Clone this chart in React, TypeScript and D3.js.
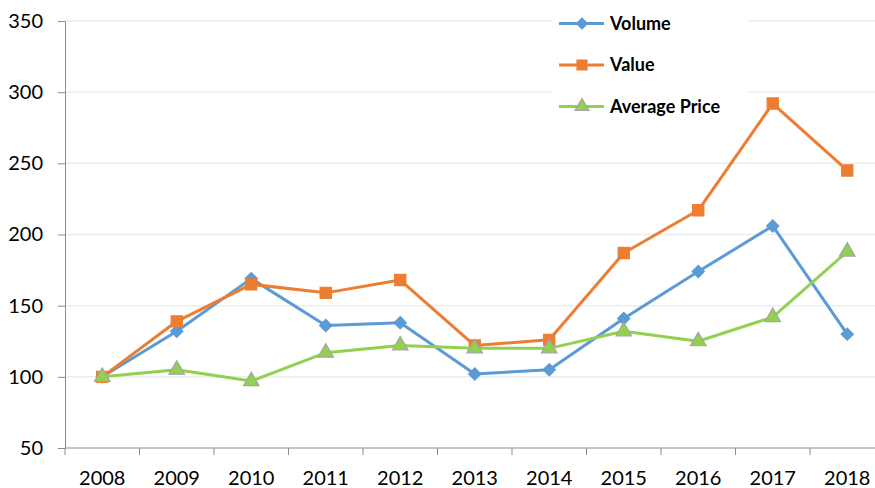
import { useEffect, useRef } from "react"
import { axisBottom, axisLeft, scaleBand, scaleLinear, select, line, symbol, symbolSquare, symbolTriangle } from "d3"

const years = ["2008", "2009", "2010", "2011", "2012", "2013", "2014", "2015", "2016", "2017", "2018"]
const volume = [100, 132, 169, 136, 138, 102, 105, 141, 174, 206, 130]
const value = [100, 139, 165, 159, 168, 122, 126, 187, 217, 292, 245]
const avgPrice = [100, 105, 97, 117, 122, 120, 120, 132, 125, 142, 188]
const yTicks = [50, 100, 150, 200, 250, 300, 350]

// diamond = square turned 45deg (d3's own diamond is too tall)
const series = [
  { name: "Volume", data: volume, color: "#5B9BD5", shape: symbolSquare, size: 75, rot: 45, stroke: "#5B9BD5" },
  { name: "Value", data: value, color: "#ED7D31", shape: symbolSquare, size: 125, rot: 0, stroke: "#ED7D31" },
  { name: "Average Price", data: avgPrice, color: "#92D050", shape: symbolTriangle, size: 105, rot: 0, stroke: "#A5A5A5" },
]

const W = 875
const H = 488
const left = 65
const right = 884.5
const top = 21
const bottom = 448
const font = "Lato, Carlito, 'Liberation Sans', sans-serif"

function AxisBottom({ scale }) {
  const ref = useRef(null)
  useEffect(() => {
    const g = select(ref.current)
    g.call(axisBottom(scale).tickSize(7).tickFormat(() => ""))
    // ticks sit on the band edges, not centers
    g.selectAll(".tick").remove()
    const edges = scale.domain().map((d) => scale(d)).concat([scale.range()[1]])
    g.selectAll("line.edge").data(edges).join("line")
      .attr("class", "edge")
      .attr("x1", (d) => d).attr("x2", (d) => d)
      .attr("y1", 0).attr("y2", 7)
      .attr("stroke", "#8C8C8C")
    g.select(".domain").attr("stroke", "#8C8C8C").attr("d", `M${scale.range()[0]},0H${scale.range()[1]}`)
    g.selectAll("text.lbl").data(scale.domain()).join("text")
      .attr("class", "lbl")
      .attr("x", (d) => scale(d) + scale.bandwidth() / 2)
      .attr("y", 37)
      .attr("text-anchor", "middle")
      .attr("font-family", font)
      .attr("font-size", 20)
      .attr("fill", "#000")
      .text((d) => d)
  }, [scale])
  return <g ref={ref} transform={`translate(0, ${bottom})`} />
}

function AxisLeft({ scale }) {
  const ref = useRef(null)
  useEffect(() => {
    const g = select(ref.current)
    g.call(axisLeft(scale).tickValues(yTicks).tickSize(7).tickPadding(15))
    g.select(".domain").attr("stroke", "#8C8C8C")
    g.selectAll(".tick line").attr("stroke", "#8C8C8C")
    g.selectAll(".tick text").attr("font-family", font).attr("font-size", 20).attr("fill", "#000")
  }, [scale])
  return <g ref={ref} transform={`translate(${left}, 0)`} />
}

export default function App() {
  const x = scaleBand().domain(years).range([left, right])
  const y = scaleLinear().domain([50, 350]).range([bottom, top])
  const cx = (d) => x(d) + x.bandwidth() / 2

  return (
    <svg width={W} height={H} style={{ position: "absolute", left: 0, top: 0, background: "#fff" }}>
      {yTicks.filter((t) => t > 50).map((t) => (
        <line key={t} x1={left} x2={right} y1={y(t)} y2={y(t)} stroke="#EDEDED" strokeWidth={1.5} />
      ))}
      <AxisLeft scale={y} />
      <AxisBottom scale={x} />

      {/* legend */}
      <rect x={553} y={0} width={196} height={124} fill="#fff" />
      {series.map((s, i) => {
        const ly = 23.5 + i * 41.5
        return (
          <g key={s.name}>
            <line x1={559} x2={604} y1={ly} y2={ly} stroke={s.color} strokeWidth={3} />
            <path d={symbol(s.shape, s.size * 0.8)()} transform={`translate(582, ${ly}) rotate(${s.rot})`} fill={s.color} stroke={s.stroke} strokeWidth={1.2} />
            <text x={610} y={ly} dy="0.36em" fontFamily={font} fontWeight={700} fontSize={18} fill="#000">{s.name}</text>
          </g>
        )
      })}

      {series.map((s) => {
        const pts = years.map((yr, i) => [cx(yr), y(s.data[i])])
        return (
          <g key={s.name}>
            <path d={line()(pts)} fill="none" stroke={s.color} strokeWidth={3} strokeLinejoin="round" />
            {pts.map(([px, py], i) => (
              <path key={i} d={symbol(s.shape, s.size)()} transform={`translate(${px}, ${py}) rotate(${s.rot})`} fill={s.color} stroke={s.stroke} strokeWidth={1.2} />
            ))}
          </g>
        )
      })}
    </svg>
  )
}
